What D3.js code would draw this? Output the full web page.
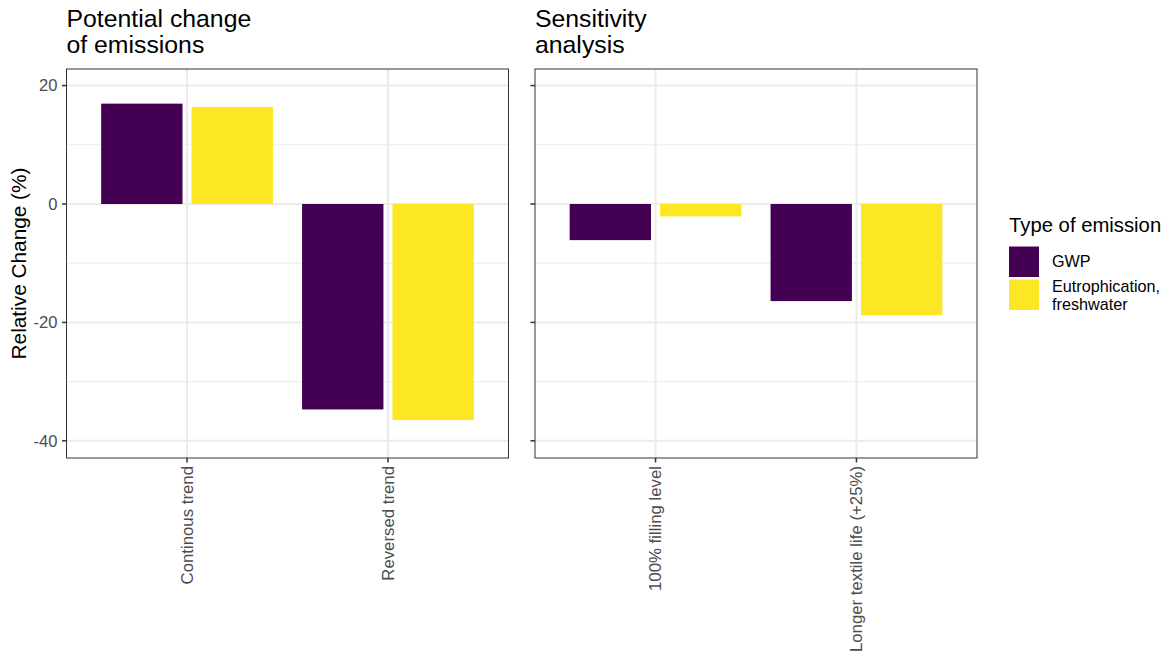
<!DOCTYPE html>
<html>
<head>
<meta charset="utf-8">
<script src="https://cdn.jsdelivr.net/npm/d3@7"></script>
<style>
  body { margin: 0; background: #fff; }
  text { font-family: "Liberation Sans", Arial, sans-serif; }
</style>
</head>
<body>
<div id="chart"></div>
<script>
// Data
const panelTitles = [["Potential change", "of emissions"], ["Sensitivity", "analysis"]];
const panelCategories = [
  ["Continous trend", "Reversed trend"],
  ["100% filling level", "Longer textile life (+25%)"]
];
const seriesNames = ["GWP", "Eutrophication, freshwater"];
const seriesLabels = [["GWP"], ["Eutrophication,", "freshwater"]];
const gwpValues = [[16.95, -34.7], [-6.1, -16.4]];
const eutroValues = [[16.4, -36.5], [-2.1, -18.8]];
const yTicks = [20, 0, -20, -40];
const yMinorTicks = [10, -10, -30];
const colors = ["#440154", "#FDE725"];

const W = 1167, H = 666;
const plotTop = 69, plotBottom = 458;
const panelX = [66.5, 535];
const panelW = 442;

const svg = d3.select("#chart")
  .append("svg")
    .attr("width", W)
    .attr("height", H);

const y = d3.scaleLinear()
  .domain([-42.9, 22.8])
  .range([plotBottom, plotTop]);

const color = d3.scaleOrdinal()
  .domain(seriesNames)
  .range(colors);

panelX.forEach((px, p) => {
  const g = svg.append("g").attr("transform", `translate(${px},0)`);

  const x0 = d3.scaleBand()
    .domain(panelCategories[p])
    .range([0, panelW])
    .paddingInner(0)
    .paddingOuter(0.1);

  const x1 = d3.scaleBand()
    .domain(seriesNames)
    .range([x0.bandwidth() * 0.05, x0.bandwidth() * 0.95])
    .paddingInner(0.1)
    .paddingOuter(0.05);

  // grid
  g.selectAll(".minor")
    .data(yMinorTicks)
    .join("line")
      .attr("x1", 0).attr("x2", panelW)
      .attr("y1", d => y(d)).attr("y2", d => y(d))
      .attr("stroke", "#EBEBEB").attr("stroke-width", 1);

  g.selectAll(".major")
    .data(yTicks)
    .join("line")
      .attr("x1", 0).attr("x2", panelW)
      .attr("y1", d => y(d)).attr("y2", d => y(d))
      .attr("stroke", "#EBEBEB").attr("stroke-width", 2);

  g.selectAll(".vgrid")
    .data(panelCategories[p])
    .join("line")
      .attr("x1", d => x0(d) + x0.bandwidth() / 2)
      .attr("x2", d => x0(d) + x0.bandwidth() / 2)
      .attr("y1", plotTop).attr("y2", plotBottom)
      .attr("stroke", "#EBEBEB").attr("stroke-width", 2);

  // bars
  const rows = panelCategories[p].map((c, i) => [
    { cat: c, s: seriesNames[0], v: gwpValues[p][i] },
    { cat: c, s: seriesNames[1], v: eutroValues[p][i] }
  ]);

  g.selectAll("g.bar-group")
    .data(rows)
    .join("g")
      .attr("transform", d => `translate(${x0(d[0].cat)},0)`)
    .selectAll("rect")
    .data(d => d)
    .join("rect")
      .attr("x", d => x1(d.s))
      .attr("y", d => y(Math.max(0, d.v)))
      .attr("width", x1.bandwidth())
      .attr("height", d => Math.abs(y(d.v) - y(0)))
      .attr("fill", d => color(d.s));

  // panel border
  g.append("rect")
    .attr("x", 0).attr("y", plotTop)
    .attr("width", panelW).attr("height", plotBottom - plotTop)
    .attr("fill", "none")
    .attr("stroke", "#333333")
    .attr("stroke-width", 1);

  // y axis ticks
  g.selectAll(".ytick")
    .data(yTicks)
    .join("line")
      .attr("x1", -4.5).attr("x2", 0)
      .attr("y1", d => y(d)).attr("y2", d => y(d))
      .attr("stroke", "#333333").attr("stroke-width", 1.5);

  if (p === 0) {
    g.selectAll(".ylab")
      .data(yTicks)
      .join("text")
        .attr("x", -9)
        .attr("y", d => y(d))
        .attr("dy", "0.35em")
        .attr("text-anchor", "end")
        .style("font-size", "16.6px")
        .style("fill", "#4D4D4D")
        .text(d => d);
  }

  // x axis ticks + labels
  g.selectAll(".xtick")
    .data(panelCategories[p])
    .join("line")
      .attr("x1", d => x0(d) + x0.bandwidth() / 2)
      .attr("x2", d => x0(d) + x0.bandwidth() / 2)
      .attr("y1", plotBottom).attr("y2", plotBottom + 4.5)
      .attr("stroke", "#333333").attr("stroke-width", 1.5);

  g.selectAll(".xlab")
    .data(panelCategories[p])
    .join("text")
      .attr("transform", d => `translate(${x0(d) + x0.bandwidth() / 2},${plotBottom + 8}) rotate(-90)`)
      .attr("dy", "0.35em")
      .attr("text-anchor", "end")
      .style("font-size", "16.8px")
      .style("fill", "#4D4D4D")
      .text(d => d);

  // title
  g.append("text")
    .attr("x", 0)
    .attr("y", 26.7)
    .style("font-size", "24.8px")
    .style("fill", "#000")
    .selectAll("tspan")
    .data(panelTitles[p])
    .join("tspan")
      .attr("x", 0)
      .attr("dy", (d, i) => i === 0 ? 0 : 26.6)
      .text(d => d);
});

// Nhãn trục Y
svg.append("text")
  .attr("transform", `translate(26,${(plotTop + plotBottom) / 2}) rotate(-90)`)
  .attr("text-anchor", "middle")
  .style("font-size", "20.8px")
  .style("fill", "#000")
  .text("Relative Change (%)");

// Legend
const legend = svg.append("g").attr("transform", "translate(1009,0)");

legend.append("text")
  .attr("x", 0)
  .attr("y", 232)
  .style("font-size", "20.3px")
  .style("fill", "#000")
  .text("Type of emission");

const keyY = [246.5, 279.5];
const labelY = [[267.2], [291.7, 310]];

seriesNames.forEach((s, i) => {
  legend.append("rect")
    .attr("x", 0)
    .attr("y", keyY[i])
    .attr("width", 30)
    .attr("height", 30.5)
    .attr("fill", color(s));

  legend.append("text")
    .style("font-size", "16.2px")
    .style("fill", "#000")
    .selectAll("tspan")
    .data(seriesLabels[i])
    .join("tspan")
      .attr("x", 43)
      .attr("y", (d, j) => labelY[i][j])
      .text(d => d);
});
</script>
</body>
</html>
